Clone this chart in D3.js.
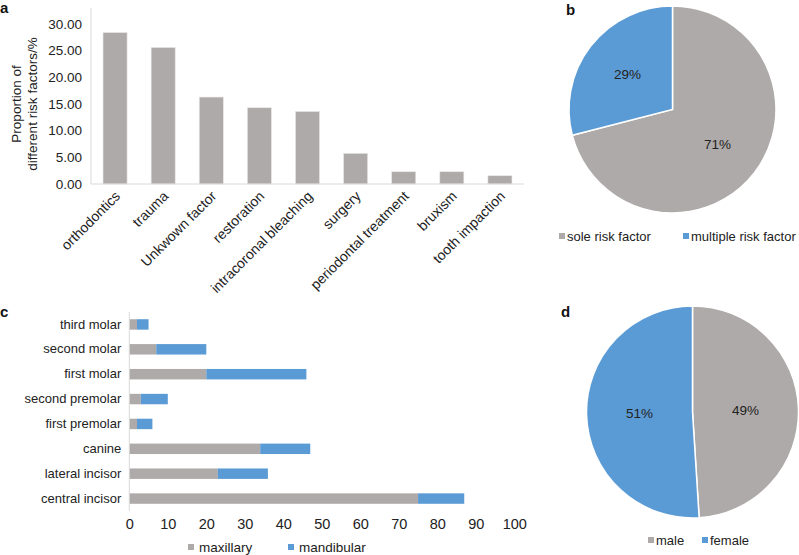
<!DOCTYPE html>
<html>
<head>
<meta charset="utf-8">
<script src="https://cdn.jsdelivr.net/npm/d3@7"></script>
<style>
body{margin:0;background:#fff;}
svg{display:block;font-family:"Liberation Sans",Arial,sans-serif;}
</style>
</head>
<body>
<svg id="c" width="799" height="555"></svg>
<script>
// Panel a
const riskCats = ["orthodontics","trauma","Unkwown factor","restoration","intracoronal bleaching","surgery","periodontal treatment","bruxism","tooth impaction"];
const riskVals = [28.4,25.6,16.3,14.3,13.6,5.75,2.3,2.3,1.55];
const riskTicks = [0,5,10,15,20,25,30];
// Panel b
const factorLabels = ["sole risk factor","multiple risk factor"];
const factorVals = [71,29];
// Panel c
const teeth = ["third molar","second molar","first molar","second premolar","first premolar","canine","lateral incisor","central incisor"];
const maxillary = [2,7,20,3,2,34,23,75];
const mandibular = [3,13,26,7,4,13,13,12];
const toothTicks = [0,10,20,30,40,50,60,70,80,90,100];
const jawLabels = ["maxillary","mandibular"];
// Panel d
const sexLabels = ["male","female"];
const sexVals = [49,51];

const FONT = '"Liberation Sans",Arial,sans-serif';
const GRAY = "#aeaaa9", BLUE = "#5b9bd5", AXIS = "#d9d9d9", TXT = "#222";
const svg = d3.select("#c");

function panelLabel(t,x,y){
  svg.append("text").attr("x",x).attr("y",y).attr("font-size",15).attr("font-weight","bold").attr("fill","#111").text(t);
}
panelLabel("a",0,13); panelLabel("b",566,15); panelLabel("c",0,317); panelLabel("d",561,317);

// ---- Panel a ----
{
  const x = d3.scaleBand().domain(riskCats).range([91,524]).paddingInner(0.5).paddingOuter(0.25);
  const y = d3.scaleLinear().domain([0,30]).range([184,24]);
  const g = svg.append("g");
  g.selectAll("rect").data(riskVals).join("rect")
    .attr("x",(d,i)=>x(riskCats[i])).attr("width",x.bandwidth())
    .attr("y",d=>y(d)).attr("height",d=>y(0)-y(d)).attr("fill",GRAY)
    .attr("stroke","#e8e6e6").attr("stroke-width",0.6);
  const ya = g.append("g").attr("transform","translate(91,0)")
    .call(d3.axisLeft(y).tickValues(riskTicks).tickFormat(d3.format(".2f")).tickSize(0).tickPadding(9))
    .attr("font-family",FONT).attr("font-size",13.5);
  ya.select(".domain").attr("stroke",AXIS).attr("d","M0,8V184");
  ya.selectAll("text").attr("fill",TXT);
  const xa = g.append("g").attr("transform","translate(0,184)")
    .call(d3.axisBottom(x).tickSize(0).tickPadding(0))
    .attr("font-family",FONT).attr("font-size",14);
  xa.select(".domain").attr("stroke",AXIS).attr("d","M91,0H524");
  xa.selectAll("text").attr("fill",TXT)
    .attr("text-anchor","end").attr("dy",0)
    .attr("transform","translate(6,13) rotate(-45)");
  const yt = g.append("text").attr("transform","translate(21,104) rotate(-90)")
    .attr("text-anchor","middle").attr("font-size",13.5).attr("fill",TXT);
  yt.append("tspan").attr("x",0).attr("dy",0).text("Proportion of");
  yt.append("tspan").attr("x",0).attr("dy",16).text("different risk factors/%");
}

// ---- pies ----
function pie(vals,labels,cx,cy,r,labelPos,legendY,legendX){
  const arcs = d3.pie().sort(null)(vals);
  const arc = d3.arc().innerRadius(0).outerRadius(r);
  const g = svg.append("g").attr("transform",`translate(${cx},${cy})`);
  const cols=[GRAY,BLUE];
  g.selectAll("path").data(arcs).join("path").attr("d",arc)
    .attr("fill",(d,i)=>cols[i]).attr("stroke","#fff").attr("stroke-width",1.5);
  const la = d3.arc().innerRadius(r*labelPos).outerRadius(r*labelPos);
  g.selectAll("text").data(arcs).join("text")
    .attr("transform",d=>`translate(${la.centroid(d)})`)
    .attr("text-anchor","middle").attr("dy","0.35em").attr("font-size",13.5).attr("fill",TXT)
    .text(d=>d.data+"%");
  labels.forEach((l,i)=>{
    svg.append("rect").attr("x",legendX[i]).attr("y",legendY-3).attr("width",6).attr("height",6).attr("fill",cols[i]);
    svg.append("text").attr("x",legendX[i]+8).attr("y",legendY).attr("dy","0.35em")
      .attr("font-size",13).attr("fill",TXT).text(l);
  });
}
pie(factorVals,factorLabels,672.5,109.5,103.5,0.55,236,[559,683]);
pie(sexVals,sexLabels,692.5,412,106,0.5,540,[648,702]);

// ---- Panel c ----
{
  const y = d3.scaleBand().domain(teeth).range([312,511]).paddingInner(0.58).paddingOuter(0.29);
  const x = d3.scaleLinear().domain([0,100]).range([129.3,514.3]);
  const g = svg.append("g");
  g.selectAll("rect.mx").data(maxillary).join("rect").attr("class","mx")
    .attr("x",x(0)).attr("y",(d,i)=>y(teeth[i])).attr("height",y.bandwidth())
    .attr("width",d=>x(d)-x(0)).attr("fill",GRAY);
  g.selectAll("rect.md").data(mandibular).join("rect").attr("class","md")
    .attr("x",(d,i)=>x(maxillary[i])).attr("y",(d,i)=>y(teeth[i])).attr("height",y.bandwidth())
    .attr("width",(d,i)=>x(maxillary[i]+d)-x(maxillary[i])).attr("fill",BLUE);
  const ya = g.append("g").attr("transform","translate(129.3,0)")
    .call(d3.axisLeft(y).tickSize(0).tickPadding(8))
    .attr("font-family",FONT).attr("font-size",13);
  ya.select(".domain").attr("stroke",AXIS).attr("d","M0,312V511");
  ya.selectAll("text").attr("fill",TXT);
  const xa = g.append("g").attr("transform","translate(0,511)")
    .call(d3.axisBottom(x).tickValues(toothTicks).tickSize(0).tickPadding(8))
    .attr("font-family",FONT).attr("font-size",14.5);
  xa.select(".domain").remove();
  xa.selectAll("text").attr("fill",TXT);
  const lx=[188,288], cols=[GRAY,BLUE];
  jawLabels.forEach((l,i)=>{
    svg.append("rect").attr("x",lx[i]).attr("y",547-3).attr("width",6).attr("height",6).attr("fill",cols[i]);
    svg.append("text").attr("x",lx[i]+11).attr("y",547).attr("dy","0.35em").attr("font-size",13.5).attr("fill",TXT).text(l);
  });
}
</script>
</body>
</html>
